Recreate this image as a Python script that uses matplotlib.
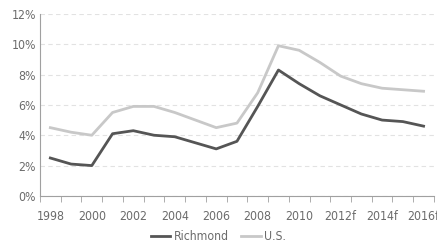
import matplotlib
matplotlib.use("Agg")
import matplotlib.pyplot as plt
from matplotlib.ticker import FixedLocator

plt.rcParams['font.family'] = ['DejaVu Sans']
plt.rcParams['font.stretch'] = 'condensed'

years = [str(y) for y in range(1998, 2012)] + ['2012f', '2013f', '2014f', '2015f', '2016f']
richmond = [2.5, 2.1, 2.0, 4.1, 4.3, 4.0, 3.9, 3.5, 3.1, 3.6, 5.9, 8.3, 7.4, 6.6, 6.0, 5.4, 5.0, 4.9, 4.6]
us = [4.5, 4.2, 4.0, 5.5, 5.9, 5.9, 5.5, 5.0, 4.5, 4.8, 6.8, 9.9, 9.6, 8.8, 7.9, 7.4, 7.1, 7.0, 6.9]
yticks = [0, 2, 4, 6, 8, 10, 12]

text_col = '#6b6b6b'

fig = plt.figure(figsize=(4.37, 2.48), dpi=100)
ax = fig.add_axes([0.0915, 0.21, 0.9015, 0.734])

x = list(range(len(years)))
ax.plot(x, richmond, color='#555555', lw=2.0, label='Richmond')
ax.plot(x, us, color='#c8c8c8', lw=2.0, label='U.S.')

ax.set_xlim(-0.5, len(years) - 0.5)
ax.set_ylim(0, 12)

ax.set_yticks(yticks)
ax.set_yticklabels(['%d%%' % v for v in yticks])
ax.yaxis.grid(True, linestyle=(0, (4, 3)), color='#e2e2e2', lw=0.8)
ax.set_axisbelow(True)

# labels at every other category, tick marks between categories
ax.xaxis.set_major_locator(FixedLocator(x[::2]))
ax.set_xticklabels([years[i] for i in x[::2]])
ax.xaxis.set_minor_locator(FixedLocator([i - 0.5 for i in range(len(years) + 1)]))
ax.tick_params(axis='x', which='major', length=0, pad=10, colors=text_col, labelsize=8.8)
ax.tick_params(axis='x', which='minor', length=4, color='#a0a0a0', direction='out')
ax.tick_params(axis='y', length=0, pad=3, colors=text_col, labelsize=8.8)

for s in ['top', 'right']:
    ax.spines[s].set_visible(False)
ax.spines['left'].set_color('#a0a0a0')
ax.spines['bottom'].set_color('#a0a0a0')

leg = fig.legend(loc='center', bbox_to_anchor=(0.5, 0.045), ncol=2, frameon=False,
                 fontsize=8.8, handlelength=1.6, handletextpad=0.3, columnspacing=1.0)
for t in leg.get_texts():
    t.set_color(text_col)

fig.savefig('out.png', dpi=100)
